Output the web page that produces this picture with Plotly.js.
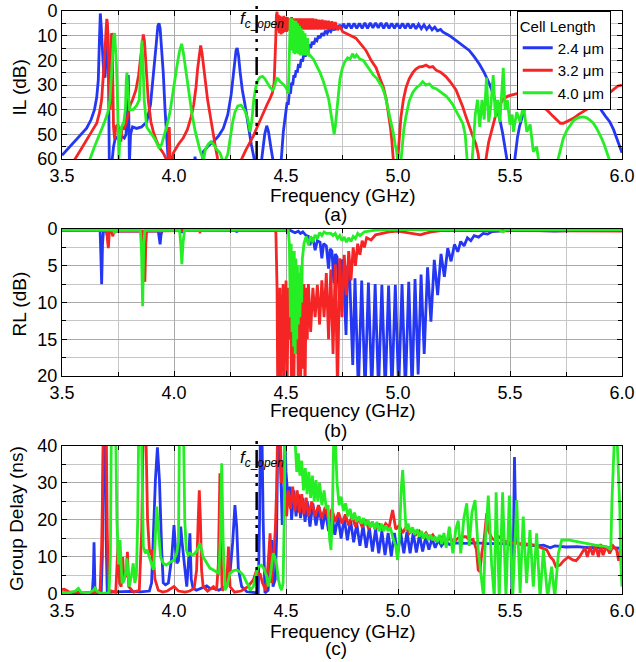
<!DOCTYPE html>
<html>
<head>
<meta charset="utf-8">
<script src="https://cdn.plot.ly/plotly-3.0.1.min.js"></script>
<style>html,body{margin:0;padding:0;background:#fff;}#chart{width:636px;height:662px;}</style>
</head>
<body>
<div id="chart"></div>
<script>
// ---------- data (frequency GHz, value) ----------
const seriesNames = ['2.4 \u03bcm', '3.2 \u03bcm', '4.0 \u03bcm'];
const fcOpen = 4.369;

// (a) Insertion loss, dB
const ilBlue = [[3.50,58.5],[3.53,55.5],[3.565,52],[3.59,49.5],[3.61,47.5],[3.63,44],[3.645,40],[3.655,35],[3.662,28],[3.667,12],[3.671,1],[3.675,6],[3.68,16],[3.686,25],[3.692,27],[3.697,20],[3.701,10],[3.704,8],[3.707,18],[3.711,60],[3.716,65],[3.722,62],[3.73,55],[3.737,52],[3.748,51],[3.759,50.6],[3.77,51],[3.778,51.5],[3.786,50],[3.791,38],[3.796,26],[3.801,62],[3.806,50],[3.815,47],[3.833,47.6],[3.855,47],[3.878,45],[3.895,38],[3.91,25],[3.92,14],[3.928,6],[3.933,5],[3.938,7],[3.945,15],[3.952,25],[3.96,40],[3.967,54],[3.975,62],[4.09,62],[4.094,59],[4.098,62],[4.125,62],[4.131,57],[4.155,54.5],[4.176,53],[4.2,50.5],[4.22,47.6],[4.24,42],[4.255,34],[4.268,24.6],[4.277,16],[4.282,15],[4.288,18],[4.295,24.6],[4.305,32],[4.317,38],[4.33,46],[4.345,54],[4.358,60],[4.365,65],[4.385,65],[4.395,58],[4.405,50],[4.414,46.5],[4.422,49],[4.432,55],[4.442,60],[4.45,65],[4.475,65],[4.482,55],[4.488,49],[4.495,44],[4.5,40],[4.505,37],[4.51,38],[4.515,33],[4.52,33.5],[4.525,29],[4.53,30],[4.535,26],[4.54,27],[4.545,24],[4.55,25],[4.556,21.5],[4.562,23],[4.568,19.5],[4.574,20.5],[4.58,17],[4.586,18.5],[4.592,15.5],[4.598,16.5],[4.604,13.5],[4.61,15],[4.617,12.5],[4.624,13.5],[4.631,11.5],[4.638,12],[4.645,10],[4.652,11],[4.66,9],[4.668,10],[4.676,8],[4.684,9],[4.692,7.5],[4.7,8.3],[4.708,6.8],[4.716,7.8],[4.724,6],[4.732,7.4],[4.74,5.6],[4.748,7.2],[4.756,5.2],[4.768,7],[4.78,5],[4.792,7],[4.804,5],[4.816,7],[4.828,5],[4.84,7],[4.852,4.8],[4.864,7],[4.876,4.8],[4.888,6.8],[4.9,4.8],[4.912,6.8],[4.924,4.8],[4.936,7],[4.948,4.8],[4.96,7],[4.972,5],[4.984,7],[4.996,5],[5.008,7],[5.02,5],[5.032,7],[5.044,5],[5.056,7],[5.068,5.2],[5.08,7.2],[5.092,5.4],[5.104,7.2],[5.116,5.6],[5.128,7.4],[5.14,6],[5.152,7.6],[5.164,6.5],[5.176,8],[5.19,7.5],[5.2,8.5],[5.23,10],[5.26,12],[5.29,14],[5.318,16],[5.34,18.5],[5.363,21.5],[5.385,25],[5.408,29.5],[5.428,34.5],[5.445,40],[5.457,45],[5.467,49.5],[5.477,54.5],[5.486,60],[5.495,65],[5.515,65],[5.524,57.5],[5.533,51.5],[5.542,47],[5.553,43],[5.564,40],[5.6,34],[5.65,29.5],[5.72,27.5],[5.8,30],[5.86,34],[5.9,39.5],[5.925,42.5],[5.946,45],[5.962,48],[5.976,51.5],[5.99,55],[6.0,57.5]];

const ilRed = [[3.55,62],[3.558,60],[3.585,56],[3.61,52],[3.635,48.5],[3.655,45.5],[3.668,41],[3.677,36],[3.685,27],[3.692,16],[3.697,7],[3.7,3.2],[3.703,5],[3.707,18],[3.711,32],[3.715,40],[3.718,30],[3.721,9],[3.724,10],[3.727,30],[3.73,47],[3.735,52],[3.74,47],[3.75,46],[3.758,50],[3.763,53],[3.768,47],[3.775,48],[3.785,46],[3.795,42],[3.805,38],[3.815,36],[3.83,32],[3.842,26],[3.852,18],[3.858,12],[3.863,9.5],[3.868,12],[3.875,24],[3.885,36],[3.897,45],[3.908,49],[3.923,53],[3.938,55.7],[3.955,58],[3.967,60],[3.975,62],[3.979,47],[3.983,62],[3.99,62],[3.997,57.5],[4.02,54],[4.041,51.5],[4.06,48],[4.076,43],[4.088,38],[4.098,31],[4.106,23],[4.113,16.5],[4.119,14],[4.125,17],[4.132,23],[4.14,29],[4.15,36],[4.161,42],[4.172,48.5],[4.183,54],[4.195,60],[4.2,62],[4.295,62],[4.302,60],[4.32,56.5],[4.339,53.5],[4.355,50.5],[4.369,47.5],[4.385,44],[4.399,41],[4.415,38],[4.429,35.4],[4.44,33],[4.447,29],[4.451,22],[4.454,12],[4.457,2],[4.46,0.3],[4.463,8],[4.466,1.5],[4.47,9],[4.474,2],[4.478,9.5],[4.482,2.5],[4.486,9],[4.49,2],[4.494,8.5],[4.498,2.5],[4.502,8.5],[4.506,2.5],[4.51,8],[4.515,3],[4.52,8],[4.525,2.5],[4.53,7.5],[4.536,3],[4.542,7.5],[4.548,3],[4.554,7.5],[4.56,3],[4.566,7.5],[4.572,3],[4.578,7.5],[4.584,3],[4.59,7.5],[4.596,3],[4.602,7.5],[4.608,3],[4.614,7.5],[4.62,3],[4.627,7.5],[4.634,3.2],[4.641,7.5],[4.648,3.5],[4.655,7.5],[4.662,3.5],[4.669,7.5],[4.676,3.8],[4.683,7.5],[4.69,4],[4.697,7.5],[4.705,4.2],[4.713,7.5],[4.72,4.5],[4.73,7.8],[4.74,6],[4.753,8.4],[4.77,9],[4.79,10],[4.812,11],[4.835,13.5],[4.857,16],[4.88,20],[4.902,23],[4.92,27.5],[4.935,31],[4.948,36],[4.958,41.5],[4.966,47],[4.972,52],[4.978,58],[4.983,65],[4.995,65],[5.0,58],[5.006,50],[5.013,43],[5.024,36],[5.036,31],[5.05,27.5],[5.066,25],[5.08,23.5],[5.095,22.6],[5.11,22.5],[5.125,21.9],[5.14,22.8],[5.155,22.5],[5.17,24],[5.19,24.8],[5.214,26.6],[5.236,29],[5.259,32],[5.275,35.5],[5.289,38.8],[5.304,43],[5.318,47],[5.333,50.5],[5.348,54],[5.358,58],[5.363,62],[5.39,62],[5.396,58],[5.405,53],[5.415,49.6],[5.428,45],[5.438,41.5],[5.452,38.5],[5.467,36],[5.49,34.5],[5.512,34],[5.53,33.5],[5.545,34],[5.575,35],[5.604,36.8],[5.635,38.5],[5.664,40],[5.69,42.5],[5.708,44.2],[5.725,45.5],[5.738,45.5],[5.76,44.5],[5.783,43.5],[5.805,42],[5.828,40.8],[5.85,39.5],[5.872,38],[5.895,36.5],[5.917,35.4],[5.94,33.5],[5.961,32],[5.98,30.5],[6.0,30]];

const ilGreen = [[3.62,62],[3.625,60],[3.645,55],[3.67,49.5],[3.69,45],[3.705,41],[3.714,36],[3.72,27],[3.726,17],[3.731,10],[3.735,9],[3.739,14],[3.743,22],[3.746,30],[3.75,47],[3.754,60],[3.758,52],[3.766,47],[3.776,45],[3.783,40],[3.787,28],[3.79,25],[3.794,32],[3.802,40],[3.818,40],[3.832,38.5],[3.845,36],[3.85,25],[3.854,14],[3.857,12],[3.861,20],[3.867,36],[3.878,47],[3.9,50],[3.915,52],[3.928,54.5],[3.934,55.7],[3.945,54],[3.955,51],[3.967,47],[3.982,41],[3.997,31],[4.012,23],[4.024,16.5],[4.034,13.3],[4.042,17],[4.052,24],[4.065,32],[4.079,41],[4.094,48.5],[4.105,53],[4.116,56.5],[4.126,59],[4.131,61],[4.14,56],[4.153,54],[4.165,53],[4.176,54],[4.19,56],[4.205,57.5],[4.215,60],[4.222,62],[4.24,58],[4.25,52],[4.262,45],[4.272,41],[4.285,38.5],[4.3,38.2],[4.317,40.5],[4.33,44],[4.34,49],[4.348,44],[4.356,36],[4.365,31],[4.375,28],[4.384,26.8],[4.395,26.5],[4.406,27.5],[4.418,29.5],[4.429,31],[4.44,32],[4.447,31],[4.453,29],[4.458,27.3],[4.465,27.5],[4.473,28.6],[4.485,29.5],[4.496,30.5],[4.505,32],[4.51,33.5],[4.513,25],[4.516,8],[4.519,3],[4.522,15],[4.525,3],[4.528,16],[4.531,3.5],[4.534,17],[4.537,4],[4.54,17.5],[4.544,4],[4.548,17],[4.552,5],[4.556,17.5],[4.56,6],[4.564,18],[4.568,7],[4.572,18],[4.576,8],[4.58,18],[4.585,9],[4.59,18],[4.596,11],[4.602,18],[4.607,18],[4.622,19.5],[4.637,22],[4.652,25],[4.667,28.6],[4.68,32],[4.69,35.5],[4.698,40],[4.704,44],[4.71,48],[4.715,50],[4.72,47],[4.726,42],[4.733,34],[4.741,27.5],[4.752,23],[4.763,20.5],[4.775,19],[4.786,19.5],[4.798,17.3],[4.806,19],[4.815,17.8],[4.83,19.5],[4.845,20],[4.86,22],[4.875,24],[4.89,26],[4.905,27.3],[4.917,29.3],[4.93,31],[4.942,34],[4.952,38],[4.961,42],[4.97,46],[4.979,49.5],[4.987,54],[4.994,57],[5.0,62],[5.012,62],[5.018,56],[5.026,48],[5.035,43],[5.05,36.5],[5.066,33],[5.083,31],[5.098,30],[5.11,28.6],[5.125,30],[5.14,29.5],[5.155,31],[5.17,31.5],[5.185,32.5],[5.2,33.4],[5.215,34.5],[5.229,36],[5.245,38],[5.259,40.5],[5.275,43],[5.289,45.5],[5.3,50],[5.306,55],[5.31,62],[5.33,62],[5.336,52],[5.345,42],[5.355,36],[5.365,47],[5.375,36],[5.385,44],[5.395,27],[5.405,45],[5.415,38],[5.425,26],[5.435,43],[5.445,36],[5.455,45],[5.47,23],[5.478,40],[5.488,36],[5.5,46],[5.51,42],[5.515,49],[5.53,41],[5.545,45],[5.56,38],[5.575,49],[5.59,46],[5.604,57],[5.619,55],[5.63,62],[5.71,62],[5.716,59.5],[5.727,55],[5.738,51.6],[5.753,48.5],[5.768,46.2],[5.783,44.5],[5.798,43.5],[5.813,43],[5.828,42.9],[5.843,43.3],[5.857,44.2],[5.872,45.5],[5.887,47.6],[5.899,49.5],[5.909,51.6],[5.92,54],[5.931,57],[5.942,60],[5.95,62],[6.0,62]];

// (b) Return loss, dB
const rlBlue = [[3.5,0.15],[3.67,0.15],[3.673,3],[3.677,7.5],[3.681,2],[3.685,0.3],[3.698,0.3],[3.702,0.9],[3.706,0.3],[3.93,0.3],[3.934,1.2],[3.938,2.1],[3.942,0.8],[3.947,0.2],[4.03,0.2],[4.034,0.5],[4.038,0.2],[4.27,0.2],[4.28,0.35],[4.29,0.2],[4.52,0.2],[4.54,0.5],[4.555,0.3],[4.565,0.6],[4.575,0.4],[4.59,0.9],[4.6,1],[4.607,2.2],[4.614,1.2],[4.622,1.5],[4.63,2.9],[4.64,1.6],[4.652,1.8],[4.66,4],[4.668,2],[4.68,2.3],[4.69,5.4],[4.697,2.7],[4.705,3],[4.714,7.4],[4.72,3.4],[4.728,3.8],[4.741,10.8],[4.748,4.2],[4.755,4.5],[4.768,14.4],[4.775,5],[4.783,5.5],[4.798,18.5],[4.808,6.7],[4.823,22],[4.838,7],[4.853,22],[4.868,7.3],[4.883,22],[4.898,7.5],[4.913,22],[4.928,7.6],[4.943,22],[4.958,7.7],[4.973,22],[4.988,7.6],[5.003,22],[5.018,7.5],[5.033,22],[5.048,7.2],[5.063,22],[5.076,6.8],[5.09,19.8],[5.103,6.2],[5.117,17],[5.132,5.2],[5.147,12.6],[5.162,4.2],[5.177,9],[5.192,3.4],[5.207,6.5],[5.222,2.6],[5.237,4.4],[5.252,2.1],[5.267,3.1],[5.28,1.7],[5.295,2.3],[5.31,1.2],[5.325,1.6],[5.34,0.9],[5.36,1.1],[5.38,0.6],[5.4,0.7],[5.42,0.35],[5.45,0.3],[5.5,0.15],[5.6,0.2],[5.7,0.3],[5.8,0.2],[5.9,0.15],[6.0,0.2]];

const rlRed = [[3.5,0.2],[3.7,0.2],[3.703,1.5],[3.707,2.6],[3.711,0.6],[3.722,0.3],[3.727,1],[3.731,0.3],[3.862,0.3],[3.866,3],[3.87,7.2],[3.874,2],[3.878,0.3],[4.11,0.2],[4.116,0.4],[4.122,0.2],[4.45,0.2],[4.455,0.5],[4.46,8],[4.463,22],[4.466,10],[4.47,16],[4.473,8],[4.476,22],[4.48,9],[4.483,14],[4.487,7.5],[4.49,22],[4.494,8],[4.497,18],[4.5,7],[4.505,22],[4.51,8],[4.515,15],[4.52,7.5],[4.525,22],[4.53,8],[4.535,22],[4.54,7.5],[4.545,17],[4.55,8],[4.555,22],[4.56,7],[4.565,22],[4.57,8],[4.575,19],[4.58,7.5],[4.585,22],[4.59,8],[4.595,15],[4.6,7.5],[4.61,14],[4.62,8],[4.63,12],[4.64,7.6],[4.65,13],[4.66,7],[4.67,12],[4.68,6],[4.69,15],[4.7,5.5],[4.71,17],[4.72,4.8],[4.73,22],[4.74,4],[4.75,12],[4.76,3.5],[4.77,9],[4.78,3],[4.79,7],[4.8,2.5],[4.81,5],[4.82,2],[4.83,3.5],[4.84,1.6],[4.85,2.5],[4.86,1.2],[4.88,1.5],[4.9,0.8],[4.93,0.6],[4.96,0.4],[5.0,0.3],[5.05,0.5],[5.08,0.7],[5.1,0.8],[5.12,0.6],[5.15,0.4],[5.2,0.2],[5.6,0.2],[5.9,0.3],[6.0,0.3]];

const rlGreen = [[3.5,0.1],[3.73,0.15],[3.735,0.6],[3.74,0.15],[3.85,0.2],[3.855,3],[3.86,10.5],[3.865,2],[3.87,0.2],[4.025,0.2],[4.03,2],[4.035,4.8],[4.04,2],[4.047,0.2],[4.51,0.1],[4.515,2],[4.52,12],[4.523,2],[4.527,14],[4.53,3],[4.534,16],[4.537,3],[4.541,17],[4.544,4],[4.548,15],[4.551,5],[4.555,13],[4.558,6],[4.562,12],[4.566,5],[4.57,10],[4.573,4],[4.577,3],[4.58,2],[4.59,1],[4.6,2.2],[4.61,1],[4.62,1.8],[4.63,0.8],[4.64,1.3],[4.65,0.5],[4.66,0.9],[4.67,0.4],[4.68,0.6],[4.7,0.6],[4.71,0.9],[4.72,0.6],[4.73,1.3],[4.74,0.9],[4.75,1.6],[4.76,1.1],[4.77,1.8],[4.78,1.2],[4.79,1.7],[4.8,1.0],[4.81,1.3],[4.82,0.6],[4.83,0.9],[4.85,0.4],[4.88,0.3],[4.9,0.15],[5.0,0.1],[5.45,0.1],[5.47,0.4],[5.48,0.1],[6.0,0.1]];

// (c) Group delay, ns
const gdBlue = [[3.5,0.3],[3.52,0.5],[3.55,0.2],[3.6,0.3],[3.635,0.3],[3.64,5],[3.643,14],[3.647,2],[3.652,0.2],[3.675,0.2],[3.68,10],[3.684,42],[3.692,42],[3.697,15],[3.702,0.3],[3.72,0.5],[3.75,0.6],[3.8,0.7],[3.85,0.6],[3.89,0.8],[3.9,3],[3.908,17.3],[3.917,30.8],[3.926,39.6],[3.935,30.8],[3.945,12],[3.952,3],[3.962,2.5],[3.975,3],[3.99,10],[4.0,18.6],[4.007,12],[4.013,8.3],[4.02,9],[4.03,18.2],[4.036,14],[4.042,10],[4.05,5],[4.057,2],[4.064,8],[4.071,16.4],[4.077,4],[4.085,1.5],[4.1,1],[4.12,1.5],[4.146,2.2],[4.16,1.5],[4.176,1.5],[4.2,1],[4.23,2],[4.25,5.6],[4.262,14],[4.272,24],[4.28,18],[4.287,7],[4.295,4],[4.302,2],[4.325,0.6],[4.35,0.4],[4.376,0.3],[4.382,20],[4.385,42],[4.393,42],[4.398,20],[4.406,0.3],[4.42,1],[4.43,8],[4.436,14.6],[4.442,2],[4.452,4],[4.458,15],[4.463,42],[4.472,42],[4.478,30],[4.483,19],[4.488,19],[4.492,30],[4.496,42],[4.5,33],[4.506,28],[4.51,25],[4.518,29],[4.525,20],[4.535,28],[4.545,21],[4.555,27],[4.565,20.5],[4.575,26],[4.585,19.5],[4.595,25],[4.607,18.2],[4.62,24.5],[4.634,18.5],[4.648,23.5],[4.662,17.5],[4.676,22.5],[4.69,17],[4.704,22],[4.718,16],[4.732,21],[4.746,15],[4.76,20.5],[4.774,14.5],[4.788,20],[4.802,14],[4.816,19],[4.83,13],[4.844,18.5],[4.858,12.5],[4.872,18],[4.886,11.5],[4.9,17.5],[4.914,11],[4.928,17],[4.942,10.5],[4.956,16.5],[4.97,10.2],[4.984,16.5],[4.998,10.5],[5.012,16.5],[5.026,11],[5.04,16.8],[5.054,11],[5.068,16.5],[5.082,11.2],[5.096,16],[5.11,11.5],[5.124,15.5],[5.138,12],[5.152,15],[5.166,12.5],[5.18,14.6],[5.194,13],[5.21,14.2],[5.23,13.4],[5.26,13.8],[5.3,13.7],[5.35,13.8],[5.4,13.6],[5.45,13.7],[5.49,13.5],[5.505,13.2],[5.51,0],[5.515,12],[5.52,37],[5.527,14],[5.54,13.5],[5.58,13.2],[5.62,13],[5.65,13.2],[5.68,12.5],[5.7,13],[5.75,12.7],[5.8,12.8],[5.85,12.5],[5.9,12.6],[5.95,12.5],[5.99,12.4],[5.998,9],[6.0,7]];

const gdRed = [[3.5,1.2],[3.51,1.3],[3.53,0.6],[3.56,0.5],[3.6,0.4],[3.65,0.3],[3.67,1],[3.677,12.8],[3.685,42],[3.698,42],[3.702,17],[3.708,1],[3.74,0.5],[3.746,8],[3.751,14.6],[3.757,3],[3.764,2],[3.771,10],[3.776,4],[3.786,5],[3.792,11.4],[3.798,2],[3.82,0.5],[3.845,1],[3.852,10],[3.856,17.3],[3.862,42],[3.875,42],[3.882,20],[3.89,12],[3.898,10.5],[3.905,12],[3.915,4],[3.93,1],[3.95,0.5],[3.97,0.8],[4.0,2],[4.02,0.8],[4.05,0.5],[4.07,0.8],[4.09,1.5],[4.101,6.5],[4.108,20],[4.113,28],[4.118,20],[4.123,6.5],[4.13,2],[4.15,0.8],[4.176,2],[4.19,1],[4.198,8],[4.205,32.6],[4.21,12],[4.215,1],[4.235,2],[4.243,12.8],[4.25,2],[4.27,0.5],[4.3,0.8],[4.33,2],[4.354,3.8],[4.362,5.6],[4.369,6.5],[4.377,5],[4.384,5.6],[4.395,3],[4.41,1],[4.42,8],[4.429,16.4],[4.436,3],[4.445,10],[4.452,17],[4.458,28],[4.462,42],[4.475,42],[4.48,30],[4.49,35],[4.496,25],[4.503,21],[4.51,28],[4.52,23],[4.53,29],[4.54,22.5],[4.55,28],[4.56,22],[4.57,27],[4.58,21.5],[4.59,26],[4.6,21],[4.615,25],[4.63,21],[4.645,24],[4.66,20.5],[4.675,23.5],[4.69,20],[4.705,23],[4.72,19.5],[4.735,22],[4.75,19],[4.765,21.5],[4.78,18.5],[4.795,21],[4.81,18.2],[4.825,20.5],[4.84,18],[4.855,20],[4.87,17.5],[4.885,19.5],[4.9,17.5],[4.915,19],[4.93,17.3],[4.945,19],[4.96,18],[4.976,22.7],[4.99,17.5],[5.005,18.5],[5.02,16.5],[5.035,18],[5.05,16.4],[5.065,17.5],[5.08,16],[5.095,17],[5.11,15.5],[5.125,16.5],[5.14,15],[5.155,16],[5.17,14.5],[5.19,15.5],[5.21,14],[5.23,15],[5.25,14.2],[5.27,15.2],[5.29,15.5],[5.304,15.5],[5.32,14.5],[5.335,14.8],[5.35,12],[5.358,6.5],[5.366,6],[5.374,11],[5.385,15],[5.396,21.8],[5.405,17],[5.42,15],[5.435,14.5],[5.45,15.5],[5.47,14.5],[5.49,14],[5.51,13.8],[5.545,13.7],[5.58,13.5],[5.61,13.2],[5.64,12.5],[5.664,11.9],[5.68,10],[5.693,9.2],[5.705,7.4],[5.723,7.8],[5.74,9],[5.76,10],[5.78,9.2],[5.795,9],[5.81,10],[5.82,11],[5.835,12.5],[5.845,10],[5.858,12.8],[5.87,10.5],[5.882,13],[5.895,10],[5.905,13.5],[5.915,10.5],[5.93,12.8],[5.945,11],[5.96,13],[5.976,11.9],[5.985,9],[5.993,12],[6.0,11]];

const gdGreen = [[3.5,0.4],[3.53,0.3],[3.56,0.8],[3.573,1.5],[3.585,0.5],[3.62,0.3],[3.64,1],[3.647,1.6],[3.655,0.8],[3.67,0.2],[3.71,0.3],[3.716,10],[3.72,42],[3.74,42],[3.745,20],[3.752,8],[3.759,14.6],[3.764,8],[3.768,2.9],[3.776,3.5],[3.785,6],[3.79,9.6],[3.795,4],[3.8,2],[3.81,5],[3.818,8.3],[3.825,3],[3.832,5],[3.838,20],[3.842,42],[3.855,42],[3.86,20],[3.863,12.8],[3.872,11],[3.88,12],[3.89,10],[3.9,8],[3.908,6.5],[3.914,12],[3.923,23.6],[3.93,18],[3.94,10],[3.952,8.3],[3.965,7.8],[3.98,8.5],[4.0,9.2],[4.012,11],[4.02,14],[4.024,42],[4.043,42],[4.048,20],[4.055,12],[4.063,10.5],[4.071,11],[4.08,10.5],[4.09,10.8],[4.1,11.5],[4.116,13.7],[4.13,10],[4.146,8.3],[4.16,7],[4.176,6.5],[4.19,6],[4.2,5.6],[4.207,15],[4.213,35.3],[4.219,15],[4.228,1],[4.24,3],[4.25,5.6],[4.265,6.3],[4.28,6.5],[4.295,6],[4.31,5],[4.325,3],[4.332,2.5],[4.34,1],[4.354,2],[4.365,5],[4.376,7.4],[4.39,7.8],[4.4,7],[4.414,4.7],[4.421,2],[4.43,5],[4.443,11],[4.45,10],[4.458,8],[4.466,4],[4.473,2],[4.48,1],[4.487,2.9],[4.492,20],[4.496,42],[4.54,42],[4.548,33],[4.555,38],[4.562,32],[4.57,36],[4.578,28],[4.586,34],[4.594,27],[4.602,33],[4.61,26],[4.618,32],[4.626,25],[4.634,30.8],[4.642,25],[4.65,30],[4.66,24],[4.67,28],[4.68,23],[4.688,24],[4.695,14.6],[4.701,11.9],[4.707,22],[4.713,42],[4.72,42],[4.728,30],[4.737,24],[4.746,26.3],[4.756,22.5],[4.766,24.5],[4.776,21],[4.786,23],[4.796,20],[4.806,22],[4.816,19.5],[4.826,21],[4.836,19],[4.846,20.5],[4.856,18.5],[4.866,20],[4.876,18],[4.886,19.5],[4.896,17.5],[4.906,19.5],[4.916,17],[4.926,19],[4.936,17],[4.946,18.5],[4.956,17],[4.966,18],[4.978,15],[4.99,13],[4.998,9.2],[5.006,15],[5.014,28],[5.021,33.5],[5.028,24],[5.036,17.3],[5.045,19],[5.055,16.5],[5.065,18],[5.075,16],[5.085,17.5],[5.095,15.5],[5.105,17],[5.115,15],[5.125,16.5],[5.135,14.6],[5.145,16],[5.155,14.5],[5.165,15.5],[5.175,14],[5.185,16],[5.195,13.5],[5.205,16.5],[5.215,12.5],[5.229,18.2],[5.245,11],[5.258,17.5],[5.269,19.8],[5.28,11],[5.294,20.5],[5.307,24.5],[5.318,13],[5.33,22],[5.344,25.4],[5.358,12],[5.374,3.8],[5.382,-1],[5.388,12],[5.403,26.6],[5.418,8],[5.43,-1],[5.438,27.5],[5.452,-1],[5.467,27.5],[5.482,-1],[5.497,26.6],[5.512,-1],[5.53,25.4],[5.545,0.3],[5.559,20.9],[5.574,2.9],[5.589,17.3],[5.604,2],[5.619,16.4],[5.634,-1],[5.649,11.9],[5.668,-1],[5.686,7.4],[5.7,-1],[5.716,11],[5.731,14.6],[5.76,14.6],[5.798,14.1],[5.84,13.7],[5.88,13.2],[5.931,12.8],[5.95,12],[5.955,25],[5.961,38.9],[5.966,42],[5.978,42],[5.985,33],[5.99,23.6],[5.995,8],[5.998,2.9],[6.0,2]];

// ---------- build ----------
const FONT = 'Arial, "Liberation Sans", sans-serif';
const colors = ['#2437f2', '#f52525', '#25ee25'];
const panels = [
  {series: [ilBlue, ilRed, ilGreen], xa: 'x', ya: 'y'},
  {series: [rlBlue, rlRed, rlGreen], xa: 'x2', ya: 'y2'},
  {series: [gdBlue, gdRed, gdGreen], xa: 'x3', ya: 'y3'}
];
const traces = [];
panels.forEach((p, pi) => {
  p.series.forEach((s, si) => {
    traces.push({
      type: 'scatter', mode: 'lines',
      x: s.map(d => d[0]), y: s.map(d => d[1]),
      xaxis: p.xa, yaxis: p.ya,
      name: seriesNames[si], legendgroup: 'g' + si,
      showlegend: pi === 0,
      line: {color: colors[si], width: 2.8}
    });
  });
});

function xAxis(anchor) {
  return {
    anchor: anchor, range: [3.5, 6.0], tick0: 3.5, dtick: 0.5, tickformat: '.1f',
    ticks: 'inside', ticklen: 5, tickcolor: '#000', tickwidth: 1,
    showline: true, linecolor: '#000', linewidth: 1, mirror: 'ticks',
    showgrid: true, gridcolor: '#a9a9a9', gridwidth: 1, zeroline: false,
    minor: {dtick: 0.25, showgrid: true, gridcolor: '#c6c6c6', ticks: 'inside', ticklen: 4, tickcolor: '#000'},
    tickfont: {family: FONT, size: 18, color: '#000'},
    ticklabelstandoff: 0
  };
}
function yAxis(anchor, domain, range, dtick) {
  return {
    anchor: anchor, domain: domain, range: range, dtick: dtick,
    ticks: 'inside', ticklen: 5, tickcolor: '#000', tickwidth: 1,
    showline: true, linecolor: '#000', linewidth: 1, mirror: 'ticks',
    showgrid: true, gridcolor: '#a9a9a9', gridwidth: 1, zeroline: false,
    minor: {dtick: dtick / 2, showgrid: true, gridcolor: '#c6c6c6', ticks: 'inside', ticklen: 4, tickcolor: '#000'},
    tickfont: {family: FONT, size: 18, color: '#000'},
    ticklabelstandoff: 0
  };
}

const dashPattern = '18px,6px,3px,6px,3px,6px';
const labelText = '<i>f</i><sub><i>c</i>_<i>open</i></sub>';
const titleFont = {family: FONT, size: 19, color: '#000'};
function note(x, y, text, extra) {
  return Object.assign({xref: 'paper', yref: 'paper', x: x, y: y, text: text, showarrow: false,
    xanchor: 'center', yanchor: 'middle', font: titleFont}, extra || {});
}

const layout = {
  width: 636, height: 662,
  margin: {l: 62, r: 14, t: 11, b: 68},
  paper_bgcolor: '#fff', plot_bgcolor: '#fff',
  font: {family: FONT, color: '#000'},
  showlegend: true,
  xaxis: xAxis('y'), xaxis2: xAxis('y2'), xaxis3: xAxis('y3'),
  yaxis: yAxis('x', [0.7461, 1], [60, 0], 10),
  yaxis2: yAxis('x2', [0.3739, 0.6261], [20, 0], 5),
  yaxis3: yAxis('x3', [0, 0.2539], [0, 40], 10),
  legend: {
    x: 0.812, y: 1.0, xanchor: 'left', yanchor: 'top',
    bgcolor: '#fff', bordercolor: '#000', borderwidth: 1,
    font: {family: FONT, size: 15, color: '#000'},
    title: {text: 'Cell Length', font: {family: FONT, size: 15, color: '#000'}},
    tracegroupgap: 0, itemwidth: 30
  },
  shapes: [
    {type: 'line', xref: 'x', yref: 'paper', x0: fcOpen, x1: fcOpen, y0: 0.7461, y1: 1.019, line: {color: '#000', width: 2.5, dash: dashPattern}},
    {type: 'line', xref: 'x3', yref: 'paper', x0: fcOpen, x1: fcOpen, y0: 0, y1: 0.2642, line: {color: '#000', width: 2.5, dash: dashPattern}}
  ],
  annotations: [
    note(4.393, 0.9846, labelText, {xref: 'x', font: {family: FONT, size: 17, color: '#000'}}),
    note(4.393, 0.2316, labelText, {xref: 'x3', font: {family: FONT, size: 17, color: '#000'}}),
    note(0.501, 0.6827, 'Frequency (GHz)'),
    note(0.501, 0.3139, 'Frequency (GHz)'),
    note(0.501, -0.0635, 'Frequency (GHz)'),
    note(0.489, 0.651, '(a)'),
    note(0.489, 0.281, '(b)'),
    note(0.489, -0.093, '(c)'),
    note(-0.0759, 0.8696, 'IL (dB)', {textangle: -90}),
    note(-0.0759, 0.4974, 'RL (dB)', {textangle: -90}),
    note(-0.0804, 0.1304, 'Group Delay (ns)', {textangle: -90})
  ]
};

Plotly.newPlot('chart', traces, layout, {staticPlot: true, displayModeBar: false});
</script>
</body>
</html>
